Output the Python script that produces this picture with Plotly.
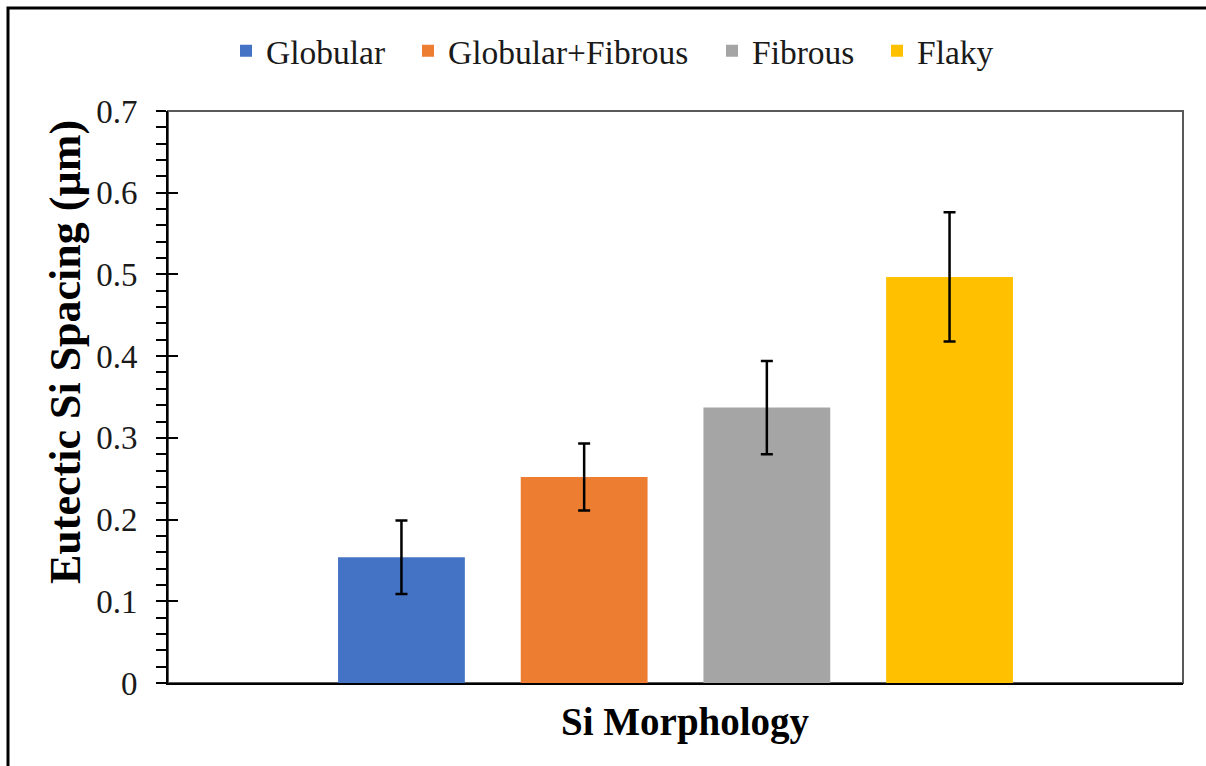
import plotly.graph_objects as go

# ---- data ----
categories = ["Si Morphology"]
series_names = ["Globular", "Globular+Fibrous", "Fibrous", "Flaky"]
spacing_means = [0.154, 0.252, 0.337, 0.497]
spacing_errors = [0.045, 0.041, 0.057, 0.079]
y_ticks = [0, 0.1, 0.2, 0.3, 0.4, 0.5, 0.6, 0.7]
y_tick_labels = ["0", "0.1", "0.2", "0.3", "0.4", "0.5", "0.6", "0.7"]

colors = ["#4472C4", "#ED7D31", "#A5A5A5", "#FFC000"]
legend_ids = ["legend", "legend2", "legend3", "legend4"]
legend_text_px = [266, 448, 752, 917]   # left edge of each legend label (pixels)

W, H = 1206, 766
ML, MR, MT, MB = 168, 23, 111, 83
PW, PH = W - ML - MR, H - MT - MB

FONT = "Liberation Serif, Times New Roman, serif"
TXT = "#1a1a1a"

fig = go.Figure()
for name, m, e, c, lg in zip(series_names, spacing_means, spacing_errors, colors, legend_ids):
    fig.add_trace(go.Bar(
        name=name, x=categories, y=[m], legend=lg,
        marker=dict(color=c, line=dict(width=0)),
        error_y=dict(type="data", array=[e], color="black", thickness=2.5, width=6),
    ))

# dummy trace on a twin axis to draw the inner half of the major ticks
fig.add_trace(go.Scatter(x=[], y=[], yaxis="y2", showlegend=False, hoverinfo="skip"))


def px_x(p):
    return (p - ML) / PW


def px_y(p):
    return (H - MB - p) / PH


legend_layout = {}
for lg, tx in zip(legend_ids, legend_text_px):
    legend_layout[lg] = dict(
        orientation="h", xref="container", yref="container",
        x=(tx - 40) / W, xanchor="left", y=1 - 51 / H, yanchor="middle",
        font=dict(family=FONT, size=33.5, color=TXT),
        bgcolor="rgba(0,0,0,0)", itemclick=False, borderwidth=0,
    )

fig.update_layout(
    width=W, height=H,
    margin=dict(l=ML, r=MR, t=MT, b=MB, autoexpand=False),
    paper_bgcolor="white", plot_bgcolor="white",
    font=dict(family=FONT, color=TXT, size=33),
    barmode="group", bargap=0.28, bargroupgap=0.306,
    showlegend=True,
    **legend_layout,
    xaxis=dict(
        showticklabels=False, ticks="", showgrid=False, zeroline=False,
        showline=True, linecolor="black", linewidth=2,
        automargin=False, fixedrange=True,
    ),
    yaxis=dict(
        range=[0, 0.7], tickvals=y_ticks, ticktext=y_tick_labels,
        ticks="outside", ticklen=10, tickwidth=1.5, tickcolor="black",
        minor=dict(dtick=0.02, ticks="outside", ticklen=10, tickwidth=1.5, tickcolor="black", showgrid=False),
        ticklabelstandoff=12,
        tickfont=dict(family=FONT, size=33, color=TXT),
        showgrid=False, zeroline=False,
        showline=True, linecolor="black", linewidth=2,
        automargin=False, fixedrange=True,
    ),
    yaxis2=dict(
        overlaying="y", side="left", anchor="x", matches="y",
        range=[0, 0.7], tickvals=y_ticks, ticks="inside", ticklen=10, tickwidth=1.5, tickcolor="black",
        showticklabels=False, showgrid=False, zeroline=False, showline=False, fixedrange=True,
    ),
    annotations=[
        dict(text="<b>Si Morphology</b>", xref="paper", yref="paper",
             x=px_x(685), y=px_y(722), xanchor="center", yanchor="middle",
             showarrow=False, font=dict(family=FONT, size=39, color="black")),
        dict(text="<b>Eutectic Si Spacing (µm)</b>", xref="paper", yref="paper",
             x=px_x(65), y=px_y(352), xanchor="center", yanchor="middle", textangle=-90,
             showarrow=False, font=dict(family=FONT, size=44, color="black")),
    ],
    shapes=[
        # plot-area frame (top/right in gray)
        dict(type="rect", xref="paper", yref="paper", x0=0, x1=1, y0=0, y1=1,
             line=dict(color="#595959", width=2), layer="below"),
        # outer border of the image
        dict(type="rect", xref="paper", yref="paper",
             x0=px_x(8), x1=px_x(W + 10), y0=px_y(H + 10), y1=px_y(8),
             line=dict(color="black", width=3), layer="above"),
    ],
)

fig.write_html("out.html")
